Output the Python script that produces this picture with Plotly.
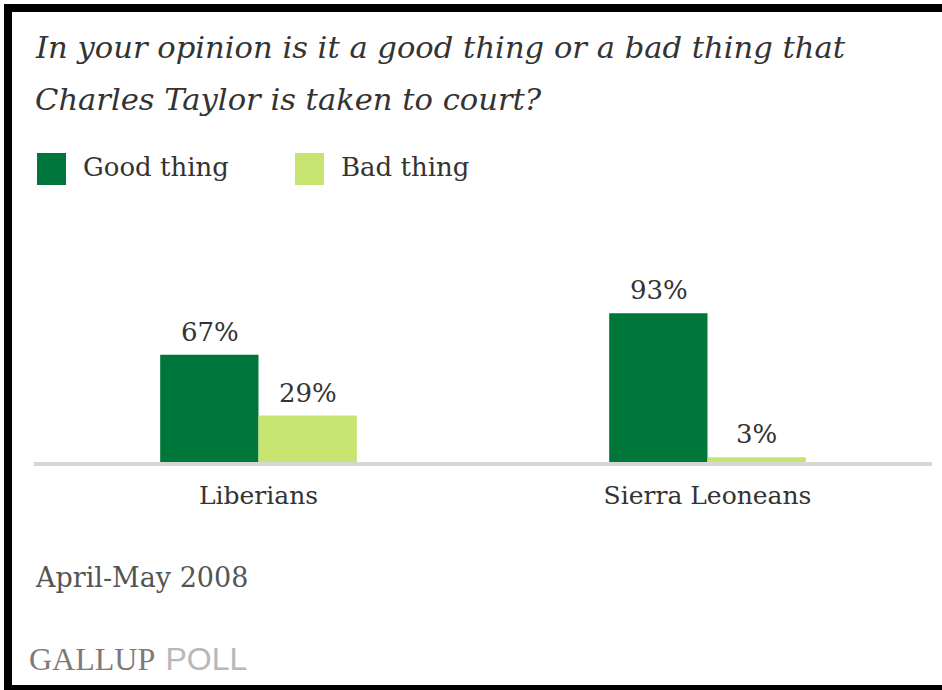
import plotly.graph_objects as go

categories = ["Liberians", "Sierra Leoneans"]
series_names = ["Good thing", "Bad thing"]
good_values = [67, 93]
bad_values = [29, 3]
colors = ["#00773A", "#C6E46F"]

W, H = 942, 690
L, R, T, B = 34, 10, 302, 228
PW = W - L - R
PH = H - T - B

def px(x):
    return (x - L) / PW

def py(y):
    return (H - B - y) / PH

SERIF = "DejaVu Serif, Georgia, serif"
fig = go.Figure()
annotations = []
bar_px = 98
for k, (name, vals, col) in enumerate(zip(series_names, [good_values, bad_values], colors)):
    fig.add_trace(go.Bar(
        x=categories, y=vals, name=name, marker=dict(color=col, line=dict(width=0)),
        showlegend=False, hoverinfo="skip",
    ))
    for c, v in zip(categories, vals):
        annotations.append(dict(xref="x", yref="y", x=c, y=v, text=f"{v}%", showarrow=False,
                                xanchor="center", yanchor="bottom", xshift=(k - 0.5) * bar_px, yshift=6,
                                font=dict(family=SERIF, size=26, color="#333333")))

shapes = []
# frame
shapes.append(dict(type="rect", xref="paper", yref="paper", x0=px(4), x1=px(12), y0=py(690), y1=py(4),
                   fillcolor="black", line=dict(width=0), layer="above"))
shapes.append(dict(type="rect", xref="paper", yref="paper", x0=px(4), x1=px(942), y0=py(12), y1=py(4),
                   fillcolor="black", line=dict(width=0), layer="above"))
shapes.append(dict(type="rect", xref="paper", yref="paper", x0=px(4), x1=px(942), y0=py(690), y1=py(685),
                   fillcolor="black", line=dict(width=0), layer="above"))
# legend swatches
leg_x = [37, 295]
for i, (name, col) in enumerate(zip(series_names, colors)):
    shapes.append(dict(type="rect", xref="paper", yref="paper", x0=px(leg_x[i]), x1=px(leg_x[i] + 29),
                       y0=py(185), y1=py(153), fillcolor=col, line=dict(width=0)))
    annotations.append(dict(xref="paper", yref="paper", x=px(leg_x[i] + 44), y=py(167), text=name,
                            xanchor="left", yanchor="middle", showarrow=False,
                            font=dict(family=SERIF, size=26, color="#333333")))

annotations += [
    dict(xref="paper", yref="paper", x=px(33), y=py(47), text="<i>In your opinion is it a good thing or a bad thing that</i>",
         xanchor="left", yanchor="middle", showarrow=False, font=dict(family=SERIF, size=30.6, color="#333333")),
    dict(xref="paper", yref="paper", x=px(33), y=py(100), text="<i>Charles Taylor is taken to court?</i>",
         xanchor="left", yanchor="middle", showarrow=False, font=dict(family=SERIF, size=30.6, color="#333333")),
    dict(xref="paper", yref="paper", x=px(33), y=py(577), text="April-May 2008",
         xanchor="left", yanchor="middle", showarrow=False, font=dict(family=SERIF, size=27, color="#555555")),
    dict(xref="paper", yref="paper", x=px(27), y=py(659),
         text="<span style='font-family:Liberation Serif'>GALLUP</span> <span style='font-family:Liberation Sans;color:#b8b8b8'>POLL</span>",
         xanchor="left", yanchor="middle", showarrow=False, font=dict(family=SERIF, size=32, color="#7a7a7a")),
]

fig.update_layout(
    width=W, height=H, margin=dict(l=L, r=R, t=T, b=B),
    paper_bgcolor="white", plot_bgcolor="white",
    barmode="group", bargap=0.562, bargroupgap=0,
    shapes=shapes, annotations=annotations,
    xaxis=dict(range=[-0.5, 1.5], showline=True, linecolor="#d6d6d2", linewidth=4,
               ticks="", showgrid=False, zeroline=False, ticklabelstandoff=8,
               tickfont=dict(family=SERIF, size=25, color="#333333")),
    yaxis=dict(range=[0, 100], visible=False, showgrid=False, zeroline=False),
)

fig.write_html("out.html", config={"displayModeBar": False},
               post_script="document.body.style.margin='0';document.body.style.padding='0';")
